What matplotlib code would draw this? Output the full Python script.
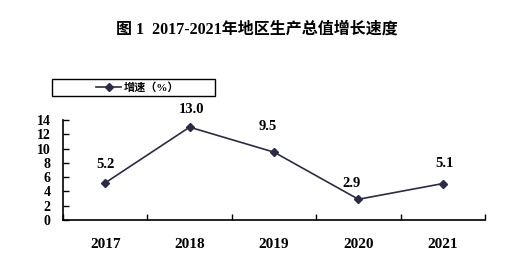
import numpy as np
import matplotlib
matplotlib.use('Agg')
import matplotlib.pyplot as plt
from matplotlib.patches import Rectangle
from matplotlib.lines import Line2D

years = ['2017', '2018', '2019', '2020', '2021']
growth = [5.2, 13.0, 9.5, 2.9, 5.1]
yticks = [0, 2, 4, 6, 8, 10, 12, 14]
title = '图 1  2017-2021年地区生产总值增长速度'
series_name = '增速（%）'

# label offsets (px) to roughly match the original placement
label_dx = [0, 2, -6, -7, 2]
label_dy = [18, 18, 26, 16, 20]

num_font = 'Liberation Serif'
mixed_font = ['Liberation Serif', 'Noto Sans CJK SC', 'DejaVu Sans']
line_color = '#2b2b47'

fig = plt.figure(figsize=(5.08, 2.74), dpi=100)
ax = fig.add_axes([63 / 508, 1 - 220 / 274, 422 / 508, 100 / 274])

x = np.arange(len(years))
ax.plot(x, growth, color=line_color, lw=1.2, marker='D', ms=4.5,
        markerfacecolor=line_color, markeredgecolor=line_color)

for i, v in enumerate(growth):
    ax.annotate(f'{v:.1f}', (x[i], v), xytext=(label_dx[i] * 0.72, label_dy[i] * 0.72),
                textcoords='offset points', ha='center', va='center',
                fontsize=10.5, fontweight='bold', family=num_font)

ax.set_xlim(-0.5, len(years) - 0.5)
ax.set_ylim(0, 14)
ax.set_yticks(yticks)
ax.set_yticklabels([str(t) for t in yticks], family=num_font, fontweight='bold', fontsize=10)
ax.set_xticks(x)
ax.set_xticklabels(years, family=num_font, fontweight='bold', fontsize=11)
ax.set_xticks(np.arange(-0.5, len(years)), minor=True)
ax.tick_params(axis='x', which='major', length=0, pad=13)
ax.tick_params(axis='x', which='minor', direction='in', length=4, width=1)
ax.tick_params(axis='y', direction='in', length=4, width=1, pad=9)
for s in ['top', 'right']:
    ax.spines[s].set_visible(False)
for s in ['left', 'bottom']:
    ax.spines[s].set_linewidth(1.2)

# legend box
fig.patches.append(Rectangle((52 / 508, 1 - 96 / 274), 163 / 508, 17 / 274,
                             transform=fig.transFigure, fill=False,
                             edgecolor='black', lw=1))
handle = Line2D([], [], color=line_color, lw=1.2, marker='D', ms=4,
                markerfacecolor=line_color)
fig.legend([handle], [series_name], loc='center',
           bbox_to_anchor=(138 / 508, 1 - 87.5 / 274), frameon=False,
           prop={'family': mixed_font, 'weight': 'bold', 'size': 8},
           handlelength=2.2, handletextpad=0.3, borderpad=0)

fig.text(257 / 508, 1 - 30 / 274, title, ha='center', va='center',
         family=mixed_font, fontweight='bold', fontsize=11.5)

fig.savefig('out.png', dpi=100, facecolor='white')
